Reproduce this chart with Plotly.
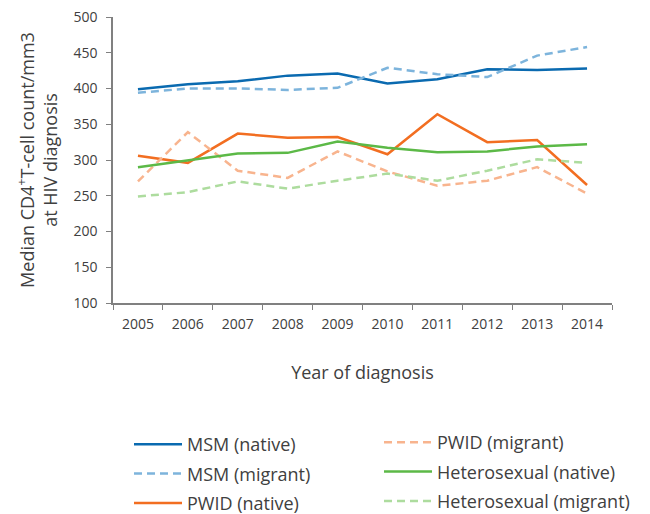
import plotly.graph_objects as go

years = ["2005", "2006", "2007", "2008", "2009", "2010", "2011", "2012", "2013", "2014"]
msm_native = [399, 406, 410, 418, 421, 407, 413, 427, 426, 428]
msm_migrant = [394, 400, 400, 398, 401, 429, 420, 416, 446, 458]
pwid_native = [306, 296, 337, 331, 332, 308, 364, 325, 328, 265]
pwid_migrant = [270, 339, 285, 275, 312, 284, 264, 271, 290, 253]
het_native = [290, 299, 309, 310, 326, 317, 311, 312, 319, 322]
het_migrant = [249, 255, 270, 260, 271, 281, 271, 285, 301, 296]

series = [
    ("MSM (native)", msm_native, "#0a6ab0", "solid", "legend"),
    ("MSM (migrant)", msm_migrant, "#7db4dc", "dash", "legend"),
    ("PWID (native)", pwid_native, "#f26e21", "solid", "legend"),
    ("PWID (migrant)", pwid_migrant, "#f8b48e", "dash", "legend2"),
    ("Heterosexual (native)", het_native, "#5cb947", "solid", "legend2"),
    ("Heterosexual (migrant)", het_migrant, "#addc9e", "dash", "legend2"),
]

fig = go.Figure()
for name, vals, color, dash, leg in series:
    fig.add_trace(go.Scatter(
        x=years, y=vals, name=name, mode="lines", legendgroup=name,
        line=dict(color=color, width=2.5, dash="8px,5px" if dash == "dash" else "solid"),
        legend=leg,
    ))

font_family = "'Open Sans', Lato, sans-serif"
legend_common = dict(
    orientation="v", bgcolor="rgba(0,0,0,0)",
    font=dict(size=18, color="#404040", family=font_family),
    xanchor="left", yanchor="bottom", tracegroupgap=3, itemwidth=48,
)

W, H = 650, 514
OFF = 8  # page body offset
TOP = 17 - OFF
PH = H - TOP
fig.update_layout(
    width=W, height=H,
    margin=dict(l=0, r=0, t=TOP, b=0),
    plot_bgcolor="white", paper_bgcolor="white",
    font=dict(family=font_family, color="#404040"),
    showlegend=True,
    legend=dict(x=(137 - OFF - 8) / W, y=0.0, **legend_common),
    legend2=dict(x=(387 - OFF - 8) / W, y=0.004, **legend_common),
    xaxis=dict(
        type="category", range=[-0.5, 9.5], automargin=False,
        domain=[(113 - OFF) / W, (612 - OFF) / W],
        tickson="boundaries", ticks="outside", ticklen=5, tickcolor="#808080",
        showline=True, linecolor="#808080", linewidth=1.5, ticklabelstandoff=7,
        showgrid=False, tickfont=dict(size=14, color="#404040"),
        title=dict(text="Year of diagnosis", font=dict(size=18, color="#404040"), standoff=35),
    ),
    yaxis=dict(
        range=[100, 500], dtick=50, ticks="outside", ticklen=5, tickcolor="#808080",
        showline=True, linecolor="#808080", linewidth=1.5, automargin=False,
        domain=[(H - (303 - OFF)) / PH, 1], ticklabelstandoff=6,
        ticklabeloverflow="allow",
        showgrid=False, zeroline=False, tickfont=dict(size=14, color="#404040"),
        title=dict(text="Median CD4<sup>+</sup>T-cell count/mm3<br>at HIV diagnosis",
                   font=dict(size=18, color="#404040"), standoff=11),
    ),
)

fig.write_html("out.html")
